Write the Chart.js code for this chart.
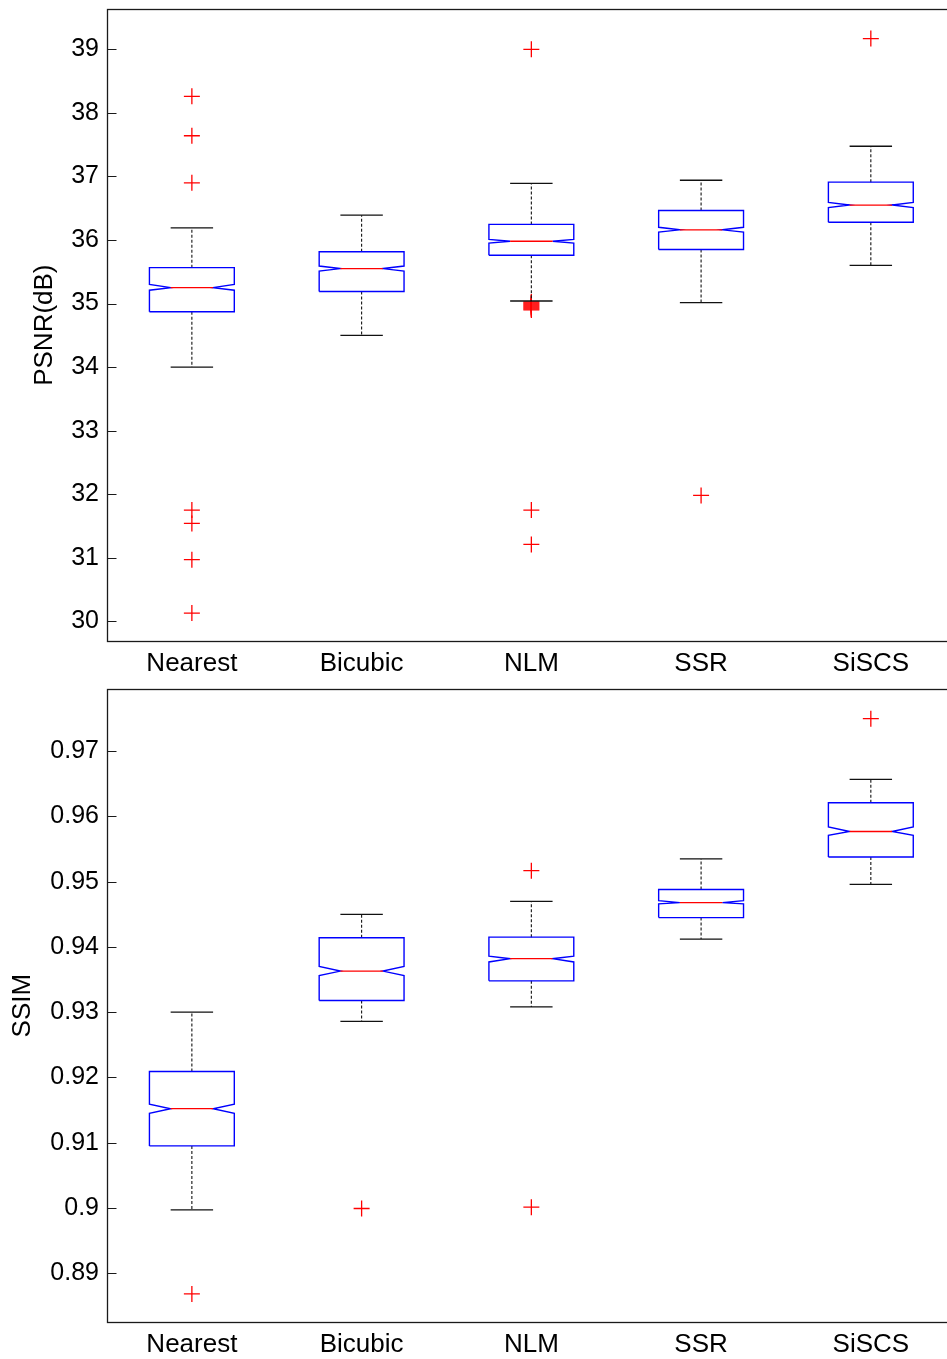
<!DOCTYPE html>
<html><head><meta charset="utf-8">
<script src="https://cdn.jsdelivr.net/npm/chart.js@4"></script>
<style>
html,body{margin:0;padding:0;background:#fff;overflow:hidden;width:947px;height:1359px;}
.wrap{position:absolute;left:0;width:965px;}
canvas{display:block;}
</style></head><body>
<div class="wrap" style="top:0;height:680px"><canvas id="c1" width="965" height="680"></canvas></div>
<div class="wrap" style="top:680px;height:679px"><canvas id="c2" width="965" height="679"></canvas></div>
<script>
// ---------- data ----------
const categories = ['Nearest', 'Bicubic', 'NLM', 'SSR', 'SiSCS'];

// PSNR(dB)
const psnrLowerWhisker = [34.00, 34.50, 35.04, 35.015, 35.60];
const psnrQ1           = [34.87, 35.19, 35.76, 35.85, 36.28];
const psnrNotchLow     = [35.21, 35.51, 35.95, 36.125, 36.51];
const psnrMedian       = [35.25, 35.55, 35.98, 36.16, 36.55];
const psnrNotchHigh    = [35.30, 35.59, 36.01, 36.20, 36.59];
const psnrQ3           = [35.565, 35.815, 36.245, 36.465, 36.91];
const psnrUpperWhisker = [36.19, 36.39, 36.89, 36.94, 37.475];
const psnrOutliers = [
  [38.26, 37.64, 36.90, 31.75, 31.54, 30.97, 30.13],
  [],
  [39.00, 35.026, 35.011, 34.995, 34.979, 34.963, 34.947, 34.932, 34.916, 34.900, 31.75, 31.21],
  [31.98],
  [39.17]
];
const psnrTicks      = [30, 31, 32, 33, 34, 35, 36, 37, 38, 39];
const psnrTickLabels = ['30', '31', '32', '33', '34', '35', '36', '37', '38', '39'];

// SSIM
const ssimLowerWhisker = [0.8997, 0.9286, 0.9308, 0.9412, 0.9496];
const ssimQ1           = [0.9095, 0.9318, 0.9348, 0.9445, 0.9538];
const ssimNotchLow     = [0.9145, 0.9356, 0.9377, 0.9466, 0.9571];
const ssimMedian       = [0.9152, 0.9363, 0.9382, 0.9468, 0.9577];
const ssimNotchHigh    = [0.9159, 0.9370, 0.9386, 0.9471, 0.9584];
const ssimQ3           = [0.9209, 0.9414, 0.9415, 0.9488, 0.9621];
const ssimUpperWhisker = [0.9300, 0.9450, 0.9470, 0.9535, 0.9657];
const ssimOutliers = [
  [0.8868],
  [0.8999],
  [0.9517, 0.9001],
  [],
  [0.9750]
];
const ssimTicks      = [0.89, 0.90, 0.91, 0.92, 0.93, 0.94, 0.95, 0.96, 0.97];
const ssimTickLabels = ['0.89', '0.9', '0.91', '0.92', '0.93', '0.94', '0.95', '0.96', '0.97'];

// ---------- style ----------
const BOX = 0.25, NOTCH = 0.125, CAP = 0.125;
const FONT = "'Liberation Sans', Arial, Helvetica, sans-serif";
const BLUE = '#0000ff', RED = '#ff0000', BLACK = '#000000';

function buildDatasets(lo, q1, nLo, med, nHi, q3, hi, outl) {
  const whisk = [], caps = [], boxes = [], meds = [], pts = [];
  const gap = i => ({x: i, y: null});
  for (let k = 0; k < categories.length; k++) {
    const i = k + 1;
    whisk.push({x: i, y: q3[k]}, {x: i, y: hi[k]}, gap(i), {x: i, y: q1[k]}, {x: i, y: lo[k]}, gap(i));
    caps.push({x: i - CAP, y: hi[k]}, {x: i + CAP, y: hi[k]}, gap(i), {x: i - CAP, y: lo[k]}, {x: i + CAP, y: lo[k]}, gap(i));
    boxes.push(
      {x: i - BOX, y: q1[k]}, {x: i - BOX, y: nLo[k]}, {x: i - NOTCH, y: med[k]}, {x: i - BOX, y: nHi[k]},
      {x: i - BOX, y: q3[k]}, {x: i + BOX, y: q3[k]}, {x: i + BOX, y: nHi[k]}, {x: i + NOTCH, y: med[k]},
      {x: i + BOX, y: nLo[k]}, {x: i + BOX, y: q1[k]}, {x: i - BOX, y: q1[k]}, gap(i));
    meds.push({x: i - NOTCH, y: med[k]}, {x: i + NOTCH, y: med[k]}, gap(i));
    outl[k].forEach(v => pts.push({x: i, y: v}));
  }
  const lineDs = (data, color, width, dash) => ({
    data, showLine: true, borderColor: color, borderWidth: width, borderDash: dash || [],
    pointRadius: 0, pointHoverRadius: 0, tension: 0, spanGaps: false, fill: false
  });
  return [
    lineDs(meds, RED, 1.3),
    lineDs(boxes, BLUE, 1.4),
    lineDs(caps, '#111111', 1.3),
    lineDs(whisk, '#111111', 1.1, [3, 2]),
    {data: pts, showLine: false, pointStyle: 'cross', pointRadius: 8, pointHoverRadius: 8,
     pointBorderColor: RED, pointBackgroundColor: RED, pointBorderWidth: 1.3, borderColor: RED}
  ];
}

const framePlugin = {
  id: 'frame',
  afterDraw(chart) {
    const {ctx, chartArea: a, scales: {y}} = chart;
    ctx.save();
    ctx.strokeStyle = '#1a1a1a';
    ctx.lineWidth = 1.3;
    const l = Math.round(a.left) + 0.5, t = Math.round(a.top) + 0.5;
    const r = Math.round(a.right) + 0.5, b = Math.round(a.bottom) + 0.5;
    ctx.strokeRect(l, t, r - l, b - t);
    ctx.lineWidth = 1.1;
    y.ticks.forEach(tk => {
      const py = Math.round(y.getPixelForValue(tk.value)) + 0.5;
      ctx.beginPath();
      ctx.moveTo(l, py); ctx.lineTo(l + 9, py);
      ctx.moveTo(r - 9, py); ctx.lineTo(r, py);
      ctx.stroke();
    });
    ctx.restore();
  }
};

function makeChart(id, datasets, yMin, yMax, ticks, tickLabels, title, titlePad, padTop, xHeight) {
  return new Chart(document.getElementById(id), {
    type: 'scatter',
    data: {datasets},
    options: {
      responsive: false,
      animation: false,
      events: [],
      layout: {padding: {top: padTop, right: 9, left: 0, bottom: 0}},
      plugins: {legend: {display: false}, tooltip: {enabled: false}},
      scales: {
        x: {
          type: 'linear', min: 0.5, max: 5.5,
          grid: {display: false, drawTicks: false},
          border: {display: false},
          afterBuildTicks: s => { s.ticks = categories.map((c, k) => ({value: k + 1})); },
          afterFit: s => { s.height = xHeight; s.paddingLeft = 0; s.paddingRight = 0; },
          ticks: {
            autoSkip: false, maxRotation: 0, padding: 7, color: BLACK,
            font: {family: FONT, size: 26},
            callback: (v) => categories[Math.round(v) - 1]
          }
        },
        y: {
          type: 'linear', min: yMin, max: yMax,
          grid: {display: false, drawTicks: false},
          border: {display: false},
          afterBuildTicks: s => { s.ticks = ticks.map(v => ({value: v})); },
          afterFit: s => { s.width = 107; s.paddingTop = 0; s.paddingBottom = 0; },
          ticks: {
            autoSkip: false, padding: 8, color: BLACK,
            font: {family: FONT, size: 25},
            callback: (v, i) => tickLabels[i]
          },
          title: {
            display: true, text: title, color: BLACK,
            font: {family: FONT, size: 26},
            padding: {top: titlePad, bottom: 0}
          }
        }
      }
    },
    plugins: [framePlugin]
  });
}

makeChart('c1',
  buildDatasets(psnrLowerWhisker, psnrQ1, psnrNotchLow, psnrMedian, psnrNotchHigh, psnrQ3, psnrUpperWhisker, psnrOutliers),
  29.69, 39.63, psnrTicks, psnrTickLabels, 'PSNR(dB)', 29, 8, 39);

makeChart('c2',
  buildDatasets(ssimLowerWhisker, ssimQ1, ssimNotchLow, ssimMedian, ssimNotchHigh, ssimQ3, ssimUpperWhisker, ssimOutliers),
  0.8825, 0.9795, ssimTicks, ssimTickLabels, 'SSIM', 7, 9, 37);
</script>
</body></html>
